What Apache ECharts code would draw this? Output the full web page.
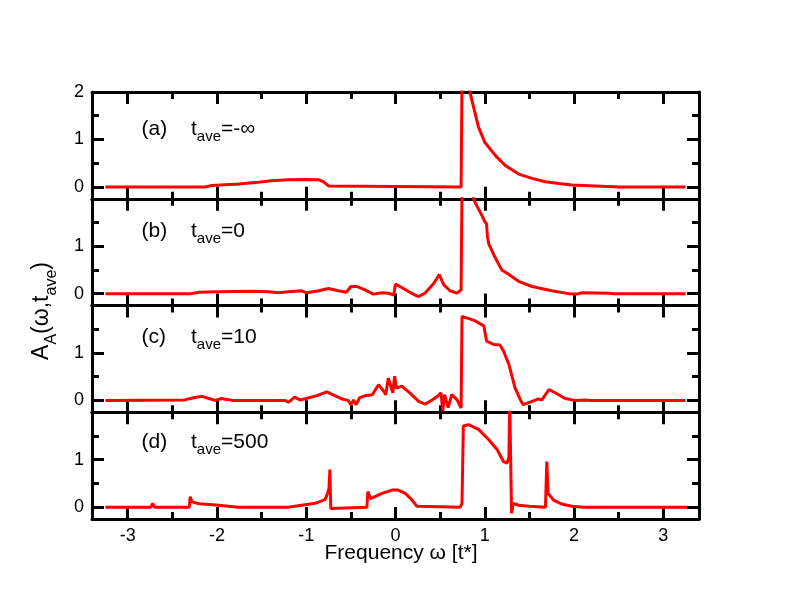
<!DOCTYPE html>
<html>
<head>
<meta charset="utf-8">
<script src="https://cdn.jsdelivr.net/npm/echarts@6/dist/echarts.min.js"></script>
</head>
<body style="margin:0">
<div id="chart" style="width:792px;height:612px"></div>
<script>
// ---- data (parts above the frame are clipped, so kept just above 2) ----
var omegaA = [-3.25, -2.13, -2.06, -1.76, -1.57, -1.39, -1.2, -1.01, -0.86, -0.81, -0.75, -0.73,
  0.735, 0.745, 0.80, 0.83, 0.837, 0.93, 1.0, 1.12, 1.23, 1.38, 1.53, 1.68, 1.83, 1.98, 2.24, 2.5, 3.25];
var specA = [0, 0, 0.03, 0.06, 0.09, 0.13, 0.15, 0.155, 0.15, 0.11, 0.02, 0,
  0, 2.2, 2.2, 2.1, 1.97, 1.26, 0.94, 0.66, 0.45, 0.27, 0.18, 0.11, 0.07, 0.04, 0.02, 0, 0];

var omegaB = [-3.25, -2.29, -2.2, -2.0, -1.6, -1.42, -1.31, -1.2, -1.05, -1.0, -0.86, -0.75, -0.64, -0.55,
  -0.50, -0.43, -0.34, -0.25, -0.15, -0.08, -0.02, 0.0, 0.05, 0.15, 0.22, 0.26, 0.33, 0.43, 0.49, 0.54,
  0.61, 0.69, 0.735, 0.745, 0.80, 0.86, 0.89, 0.97, 1.0, 1.02, 1.03, 1.045, 1.1, 1.19, 1.25, 1.38, 1.53,
  1.75, 1.94, 2.03, 2.09, 2.39, 2.45, 3.25];
var specB = [0, 0, 0.03, 0.04, 0.05, 0.04, 0.02, 0.04, 0.06, 0.02, 0.06, 0.11, 0.06, 0.03,
  0.15, 0.15, 0.08, -0.01, 0.02, 0.01, -0.03, 0.2, 0.15, 0.04, -0.03, -0.06, 0.01, 0.22, 0.40, 0.19,
  0.06, 0.01, 0.08, 2.2, 2.2, 2.1, 1.93, 1.64, 1.52, 1.47, 1.2, 1.05, 0.82, 0.5, 0.43, 0.26, 0.15,
  0.06, 0.0, -0.01, 0.02, 0.01, 0, 0];

var omegaC = [-3.25, -2.36, -2.25, -2.17, -2.09, -2.02, -1.95, -1.83, -1.24, -1.2, -1.13, -1.07, -1.0,
  -0.88, -0.77, -0.68, -0.6, -0.53, -0.50, -0.47, -0.44, -0.40, -0.34, -0.26, -0.19, -0.13, -0.11,
  -0.08, -0.06, -0.03, -0.01, 0.01, 0.07, 0.16, 0.26, 0.33, 0.41, 0.48, 0.51, 0.53, 0.55, 0.59, 0.63,
  0.69, 0.735, 0.745, 0.76, 0.89, 0.99, 1.02, 1.04, 1.1, 1.17, 1.21, 1.27, 1.34, 1.40, 1.43, 1.53,
  1.60, 1.64, 1.72, 1.79, 1.90, 2.01, 2.13, 2.2, 3.25];
var specC = [0, 0.01, 0.06, 0.085, 0.04, 0, 0.04, 0, 0, -0.04, 0.07, 0.01, 0.04,
  0.1, 0.18, 0.1, 0.03, 0, -0.09, 0.01, -0.09, 0.06, 0.1, 0.12, 0.33, 0.19, 0.12,
  0.47, 0.51, 0.16, 0.51, 0.26, 0.30, 0.16, -0.02, -0.08, 0.01, 0.1, 0.16, -0.23, 0.12, -0.15, 0.12,
  0.01, -0.16, 1.77, 1.77, 1.68, 1.57, 1.25, 1.22, 1.18, 1.17, 1.04, 0.76, 0.26, 0.01, -0.09, -0.02,
  0.03, 0.01, 0.23, 0.16, 0.04, 0, 0.01, 0, 0];

var omegaD = [-3.25, -2.74, -2.72, -2.70, -2.31, -2.30, -2.28, -2.2, -1.98, -1.76, -1.2, -1.09, -0.9,
  -0.79, -0.76, -0.745, -0.735, -0.725, -0.71, -0.32, -0.31, -0.28, -0.15, -0.04, 0.03, 0.11, 0.18,
  0.24, 0.26, 0.725, 0.745, 0.76, 0.82, 0.93, 1.04, 1.14, 1.21, 1.25, 1.27, 1.28, 1.29, 1.30, 1.32,
  1.38, 1.5, 1.68, 1.695, 1.71, 1.77, 1.87, 1.98, 2.1, 3.27];
var specD = [0, 0, 0.08, 0, 0, 0.22, 0.11, 0.07, 0.04, 0, 0, 0.03, 0.08,
  0.16, 0.29, 0.4, 0.79, -0.03, 0, 0, 0.33, 0.18, 0.29, 0.36, 0.36, 0.29, 0.16,
  0.02, 0, 0, 0.08, 1.71, 1.74, 1.64, 1.43, 1.21, 0.96, 0.93, 1.04, 2.2, 2.2, -0.13, 0.08,
  0.04, 0.02, 0, 0.96, 0.29, 0.15, 0.06, 0.02, 0, 0];

var panelTags = ['(a)', '(b)', '(c)', '(d)'];
var panelTave = ['=-∞', '=0', '=10', '=500'];
var xMajorTicks = [-3, -2, -1, 0, 1, 2, 3];
var xMinorTicks = [-2.5, -1.5, -0.5, 0.5, 1.5, 2.5];
var yMajorTicks = [0, 1, 2];
var yMinorTicks = [0.5, 1.5];
var yLabelsTop = [0, 1, 2];
var yLabelsOther = [0, 1];

// ---- layout ----
var FONT = 'Liberation Sans';
var TICK = '#010101';
var PANEL_H = 106.75;
var labelY = [129, 231, 337, 442];

var omegas = [omegaA, omegaB, omegaC, omegaD];
var specs = [specA, specB, specC, specD];

function pairs(xs, ys) {
    return xs.map(function (x, k) { return [x, ys[k]]; });
}

function axisFor(dim, i, pos, ticks, len, labels, line) {
    return {
        type: 'value', gridIndex: i, position: pos,
        min: dim === 'x' ? -3.4 : -0.25, max: dim === 'x' ? 3.4 : 2,
        axisLine: {show: line, onZero: false, lineStyle: {color: '#000', width: 3}},
        splitLine: {show: false},
        axisTick: {show: true, inside: true, length: len, customValues: ticks,
            lineStyle: {color: TICK, width: 3}},
        axisLabel: {show: true, customValues: labels || ticks, margin: 8,
            fontSize: 18, fontFamily: FONT,
            color: labels ? '#000' : 'rgba(0,0,0,0)'}
    };
}

var grids = [], xAxes = [], yAxes = [], series = [], graphics = [];
for (var i = 0; i < 4; i++) {
    grids.push({left: 92, right: 93, top: 92 + i * PANEL_H, height: PANEL_H, outerBoundsMode: 'none'});
    // bottom major carries the series, then bottom minor, top major, top minor
    xAxes.push(axisFor('x', i, 'bottom', xMajorTicks, 12, i === 3 ? xMajorTicks : null, true));
    xAxes.push(axisFor('x', i, 'bottom', xMinorTicks, 7, null, false));
    xAxes.push(axisFor('x', i, 'top', xMajorTicks, 12, null, true));
    xAxes.push(axisFor('x', i, 'top', xMinorTicks, 7, null, false));
    yAxes.push(axisFor('y', i, 'left', yMajorTicks, 12, i === 0 ? yLabelsTop : yLabelsOther, true));
    yAxes.push(axisFor('y', i, 'left', yMinorTicks, 7, null, false));
    yAxes.push(axisFor('y', i, 'right', yMajorTicks, 12, null, true));
    yAxes.push(axisFor('y', i, 'right', yMinorTicks, 7, null, false));

    series.push({type: 'line', xAxisIndex: i * 4, yAxisIndex: i * 4,
        data: pairs(omegas[i], specs[i]), symbol: 'none',
        lineStyle: {color: '#ff0000', width: 3}});

    graphics.push({type: 'text', x: 141.5, y: labelY[i],
        style: {text: panelTags[i], font: '21px ' + FONT, fill: '#000',
            align: 'left', verticalAlign: 'middle'}});
    graphics.push({type: 'text', x: 191, y: labelY[i],
        style: {
            text: '{m|t}{s|ave}{m|' + panelTave[i] + '}',
            align: 'left', verticalAlign: 'middle',
            rich: {
                m: {fontSize: 21, fontFamily: FONT, fill: '#000'},
                s: {fontSize: 15, fontFamily: FONT, fill: '#000', padding: [16, 0, 0, 0]}
            }
        }});
}

// axis titles
graphics.push({type: 'text', x: 401, y: 553,
    style: {text: 'Frequency ω [t*]', font: '21px ' + FONT, fill: '#000',
        align: 'center', verticalAlign: 'middle'}});
graphics.push({type: 'text', x: 41.5, y: 311, rotation: Math.PI / 2,
    style: {
        text: '{m|A}{s|A}{m|(ω,t}{s|ave}{m|)}',
        align: 'center', verticalAlign: 'middle',
        rich: {
            m: {fontSize: 23, fontFamily: FONT, fill: '#000'},
            s: {fontSize: 16, fontFamily: FONT, fill: '#000', padding: [20, 0, 0, 0]}
        }
    }});

var c = echarts.init(document.getElementById('chart'));
c.setOption({animation: false, backgroundColor: '#fff',
    grid: grids, xAxis: xAxes, yAxis: yAxes, series: series, graphic: graphics});
</script>
</body>
</html>
